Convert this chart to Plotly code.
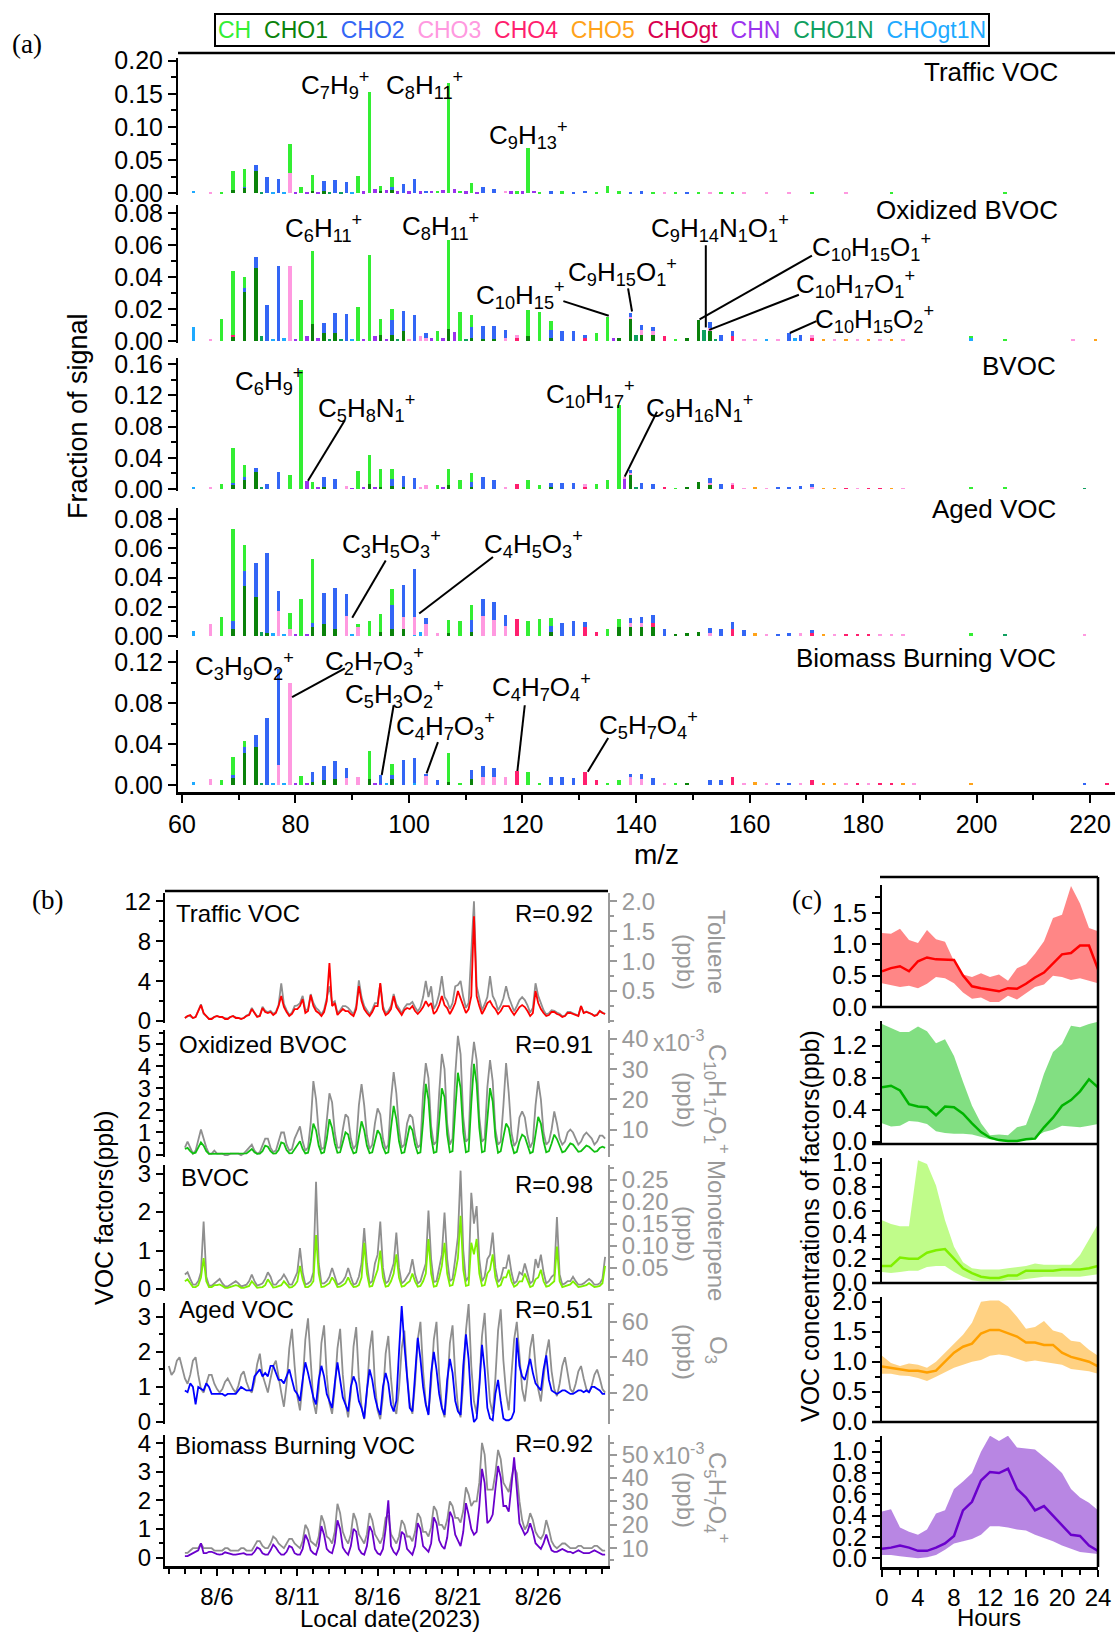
import plotly.graph_objects as go
import pandas as pd

W, H = 1115, 1633
FONT = "Liberation Sans, Arial, sans-serif"
SERIF = "Liberation Serif, Times New Roman, serif"
GRAY = "#999999"

# ---------------- Panel (a) data: mass spectra (m/z, category, fraction) ----------------
CATEGORIES = ["CH", "CHO1", "CHO2", "CHO3", "CHO4", "CHO5", "CHOgt", "CHN", "CHO1N", "CHOgt1N"]
CAT_COLORS = ["#33ee33", "#0b820b", "#3366f5", "#ff99e0", "#ff1f6e", "#ffa31a",
              "#d8004f", "#9b33ee", "#10a060", "#1eaaff"]
STACK_ORDER = ["CHOgt1N", "CHO1N", "CHN", "CHO1", "CHOgt", "CHO5", "CHO4", "CHO3", "CHO2", "CH"]
FACTORS = ["Traffic VOC", "Oxidized BVOC", "BVOC", "Aged VOC", "Biomass Burning VOC"]

TRAFFIC_PEAKS = [
    (62, "CHOgt1N", 0.0035), (65, "CHO3", 0.001), (67, "CH", 0.002),
    (69, "CHO1", 0.005), (69, "CH", 0.029), (71, "CHO1", 0.008), (71, "CHO2", 0.002), (71, "CH", 0.026),
    (73, "CHO1", 0.033), (73, "CHO2", 0.009), (74, "CHO1N", 0.002), (75, "CHO2", 0.024),
    (76, "CHOgt1N", 0.002), (77, "CHO2", 0.022), (78, "CHOgt1N", 0.002), (79, "CHO3", 0.030), (79, "CH", 0.044),
    (80, "CHN", 0.002), (81, "CH", 0.009), (82, "CHN", 0.002), (83, "CHO1", 0.004), (83, "CH", 0.023),
    (84, "CHN", 0.002), (85, "CHO1", 0.003), (85, "CHO2", 0.016), (86, "CHO1N", 0.002), (87, "CHO2", 0.020),
    (88, "CHO1N", 0.002), (89, "CHO2", 0.017), (90, "CHOgt1N", 0.001), (91, "CH", 0.026), (92, "CHN", 0.003),
    (93, "CH", 0.153), (94, "CHN", 0.006), (95, "CHO1", 0.004), (95, "CH", 0.007), (96, "CHN", 0.005),
    (97, "CHO1", 0.006), (97, "CHO2", 0.003), (97, "CH", 0.015), (98, "CHN", 0.003), (99, "CHO2", 0.014),
    (100, "CHN", 0.003), (101, "CHO2", 0.021), (102, "CHN", 0.003), (103, "CHO2", 0.004), (104, "CHN", 0.004),
    (105, "CH", 0.004), (106, "CHN", 0.005), (107, "CH", 0.167), (108, "CHN", 0.006), (109, "CH", 0.004),
    (110, "CHN", 0.003), (111, "CH", 0.015), (112, "CHN", 0.002), (113, "CHO2", 0.010), (115, "CHO2", 0.007),
    (117, "CHO3", 0.004), (118, "CHN", 0.003), (119, "CH", 0.003), (120, "CHN", 0.003), (121, "CH", 0.069),
    (122, "CHN", 0.004), (123, "CH", 0.002), (125, "CHO2", 0.003), (127, "CH", 0.003), (129, "CHO2", 0.002),
    (131, "CHO2", 0.004), (133, "CH", 0.002), (135, "CH", 0.011), (137, "CH", 0.003), (139, "CHO2", 0.002),
    (141, "CHO2", 0.003), (143, "CH", 0.002), (145, "CHO3", 0.002), (147, "CH", 0.002), (149, "CHO2", 0.001),
    (151, "CH", 0.002), (153, "CHO3", 0.001), (155, "CH", 0.001), (157, "CH", 0.002), (159, "CHO3", 0.001),
    (163, "CHO3", 0.001), (167, "CHO3", 0.001), (171, "CH", 0.001), (177, "CHO3", 0.001), (185, "CH", 0.001),
    (205, "CH", 0.002),
]
OXBVOC_PEAKS = [
    (62, "CHOgt1N", 0.009), (65, "CHO3", 0.001), (67, "CH", 0.0136),
    (69, "CHO1", 0.003), (69, "CHO4", 0.001), (69, "CH", 0.040),
    (71, "CHO1", 0.031), (71, "CHO2", 0.002), (71, "CH", 0.007), (73, "CHO1", 0.046), (73, "CHO2", 0.0065),
    (74, "CHO1N", 0.003), (75, "CHO2", 0.0226), (76, "CHOgt1N", 0.001), (77, "CHO2", 0.047),
    (78, "CHOgt1N", 0.002), (79, "CHO3", 0.047), (80, "CHN", 0.001), (81, "CH", 0.026), (82, "CHN", 0.003),
    (83, "CHO1", 0.0107), (83, "CH", 0.0457), (84, "CHN", 0.002), (85, "CHO1", 0.005), (85, "CHO2", 0.006),
    (86, "CHO1N", 0.001), (87, "CHO1", 0.005), (87, "CHO2", 0.0123), (88, "CHO1N", 0.001), (89, "CHO2", 0.017),
    (90, "CHOgt1N", 0.001), (91, "CH", 0.021), (92, "CHN", 0.001), (93, "CH", 0.054), (94, "CHN", 0.003),
    (95, "CHO1", 0.0035), (95, "CH", 0.0105), (96, "CHN", 0.001),
    (97, "CHO1", 0.004), (97, "CHO2", 0.009), (97, "CH", 0.007), (98, "CHO1N", 0.001),
    (99, "CHO1", 0.0065), (99, "CHO2", 0.0125), (100, "CHO3", 0.001), (101, "CHO2", 0.016), (102, "CHO3", 0.003),
    (103, "CHO3", 0.002), (103, "CHO2", 0.003), (104, "CHN", 0.002), (105, "CH", 0.006), (106, "CHN", 0.002),
    (107, "CHO1", 0.0075), (107, "CH", 0.0555), (108, "CHN", 0.0056), (109, "CH", 0.018), (110, "CHO1N", 0.001),
    (111, "CHO1", 0.002), (111, "CHO2", 0.007), (111, "CH", 0.007), (113, "CHO1", 0.001), (113, "CHO2", 0.0086),
    (115, "CHO1", 0.001), (115, "CHO2", 0.0086), (117, "CHO3", 0.002), (117, "CHO2", 0.0047),
    (119, "CHO4", 0.002), (119, "CHO3", 0.0015), (121, "CHO1", 0.003), (121, "CH", 0.0166), (123, "CH", 0.018),
    (125, "CHO1", 0.002), (125, "CHO2", 0.005), (125, "CH", 0.0055), (127, "CHO2", 0.006), (129, "CHO2", 0.006),
    (131, "CHO4", 0.002), (131, "CHO2", 0.002), (133, "CH", 0.005), (135, "CH", 0.0148), (136, "CHN", 0.002),
    (137, "CHO1", 0.002), (139, "CHO1", 0.0138), (139, "CHO3", 0.001), (139, "CHO2", 0.003),
    (140, "CHO1N", 0.004), (141, "CHO1", 0.004), (141, "CHO3", 0.003), (141, "CHO2", 0.003),
    (143, "CHO1", 0.004), (143, "CHO3", 0.002), (143, "CHO2", 0.003), (145, "CHO4", 0.003), (147, "CH", 0.001),
    (149, "CHO1", 0.002), (151, "CHO1", 0.013), (152, "CHO1N", 0.007),
    (153, "CHO1", 0.006), (153, "CHO3", 0.002), (153, "CHO2", 0.004), (154, "CHO1N", 0.001), (155, "CHO2", 0.004),
    (157, "CHO4", 0.003), (157, "CHO2", 0.003), (159, "CHO3", 0.001), (161, "CHO3", 0.001),
    (163, "CHOgt1N", 0.001), (165, "CHO3", 0.001), (167, "CHO2", 0.005), (168, "CHOgt1N", 0.002),
    (169, "CHO2", 0.004), (171, "CHO4", 0.002), (171, "CHO3", 0.002), (173, "CHO5", 0.001), (175, "CHO3", 0.001),
    (177, "CHO5", 0.001), (179, "CHO3", 0.001), (181, "CHO5", 0.001), (183, "CHO3", 0.001), (185, "CHO5", 0.001),
    (187, "CHO3", 0.001), (199, "CHOgt1N", 0.002), (199, "CH", 0.001), (205, "CH", 0.001),
    (217, "CHO3", 0.001), (221, "CHO5", 0.001),
]
BVOC_PEAKS = [
    (62, "CHOgt1N", 0.002), (65, "CHO3", 0.002), (67, "CH", 0.006),
    (69, "CHO1", 0.006), (69, "CHO2", 0.002), (69, "CH", 0.045),
    (71, "CHO1", 0.012), (71, "CHO2", 0.003), (71, "CH", 0.016), (73, "CHO1", 0.022), (73, "CHO2", 0.005),
    (74, "CHO1N", 0.002), (75, "CHO2", 0.006), (77, "CHO2", 0.022), (79, "CH", 0.018), (81, "CH", 0.153),
    (82, "CHN", 0.010), (83, "CH", 0.0085), (84, "CHN", 0.002), (85, "CHO1", 0.002), (85, "CHO2", 0.014),
    (87, "CHO2", 0.013), (89, "CHO3", 0.004), (90, "CHN", 0.001), (91, "CH", 0.023), (92, "CHN", 0.002),
    (93, "CHO1", 0.006), (93, "CH", 0.037), (94, "CHN", 0.002), (95, "CHO1", 0.003), (95, "CH", 0.022),
    (97, "CHO1", 0.004), (97, "CHO2", 0.009), (97, "CH", 0.013), (99, "CHO1", 0.003), (99, "CHO2", 0.014),
    (101, "CHO2", 0.014), (102, "CHO3", 0.002), (103, "CHO3", 0.005), (105, "CH", 0.005), (106, "CHN", 0.002),
    (107, "CHO1", 0.005), (107, "CH", 0.020), (109, "CH", 0.0115),
    (111, "CHO1", 0.002), (111, "CHO2", 0.007), (111, "CH", 0.012), (113, "CHO2", 0.016), (115, "CHO2", 0.012),
    (117, "CHO3", 0.003), (119, "CHO4", 0.007), (121, "CH", 0.011), (123, "CH", 0.005),
    (125, "CHO1", 0.002), (125, "CHO2", 0.006), (127, "CHO2", 0.008), (129, "CHO2", 0.008),
    (131, "CHO4", 0.003), (131, "CHO3", 0.003), (133, "CH", 0.006), (135, "CH", 0.012), (137, "CH", 0.107),
    (138, "CHN", 0.013), (138, "CHO3", 0.002), (139, "CHO1", 0.019), (139, "CHO3", 0.002), (139, "CHO2", 0.003),
    (140, "CHO1N", 0.002), (141, "CHO2", 0.008), (143, "CHO2", 0.006), (145, "CHO4", 0.002), (147, "CH", 0.001),
    (149, "CHO1", 0.003), (151, "CHO1", 0.009), (153, "CHO1", 0.006), (153, "CHO3", 0.002), (153, "CHO2", 0.006),
    (155, "CHO2", 0.006), (157, "CHO4", 0.006), (157, "CHO3", 0.001), (159, "CHO3", 0.001), (161, "CHO5", 0.002),
    (163, "CHO3", 0.001), (165, "CHO2", 0.002), (167, "CHO2", 0.003), (169, "CHO2", 0.004),
    (171, "CHO3", 0.002), (171, "CHO2", 0.004), (173, "CHO5", 0.001), (175, "CHO5", 0.001), (177, "CHO4", 0.001),
    (179, "CHO3", 0.001), (181, "CHO4", 0.001), (183, "CHO4", 0.001), (185, "CHO5", 0.001), (187, "CHO3", 0.001),
    (199, "CH", 0.002), (205, "CH", 0.002), (219, "CHO1N", 0.001),
]
AGED_PEAKS = [
    (62, "CHOgt1N", 0.0034), (65, "CHO3", 0.008), (67, "CH", 0.013),
    (69, "CHO1", 0.005), (69, "CHO2", 0.005), (69, "CH", 0.063),
    (71, "CHO1", 0.0345), (71, "CHO2", 0.0102), (71, "CH", 0.0173), (73, "CHO1", 0.027), (73, "CHO2", 0.023),
    (74, "CHO1N", 0.003), (75, "CHO1", 0.002), (75, "CHO2", 0.055), (76, "CHOgt1N", 0.002),
    (77, "CHO3", 0.017), (77, "CHO2", 0.014), (78, "CHOgt1N", 0.001), (79, "CHO3", 0.005), (79, "CH", 0.0105),
    (80, "CHN", 0.001), (81, "CH", 0.025), (82, "CHN", 0.001),
    (83, "CHO1", 0.006), (83, "CHO2", 0.003), (83, "CH", 0.044), (85, "CHO1", 0.008), (85, "CHO2", 0.0216),
    (87, "CHO1", 0.005), (87, "CHO2", 0.028), (89, "CHO3", 0.014), (89, "CHO2", 0.0145), (90, "CHOgt1N", 0.001),
    (91, "CHO3", 0.006), (91, "CH", 0.002), (93, "CH", 0.010), (95, "CHO1", 0.003), (95, "CH", 0.012),
    (97, "CHO1", 0.005), (97, "CHO2", 0.016), (97, "CH", 0.011),
    (99, "CHO1", 0.005), (99, "CHO3", 0.008), (99, "CHO2", 0.022),
    (101, "CHOgt1N", 0.001), (101, "CHO3", 0.012), (101, "CHO2", 0.033), (102, "CHOgt1N", 0.003),
    (103, "CHO3", 0.008), (103, "CHO2", 0.004), (105, "CHO3", 0.002), (107, "CHO1", 0.002), (107, "CH", 0.009),
    (109, "CH", 0.010), (111, "CHO1", 0.003), (111, "CHO2", 0.008), (111, "CH", 0.010),
    (113, "CHO3", 0.014), (113, "CHO2", 0.0113), (115, "CHO3", 0.011), (115, "CHO2", 0.012),
    (117, "CHO3", 0.007), (117, "CHO2", 0.0076), (119, "CHO4", 0.0116), (121, "CH", 0.010), (123, "CH", 0.0114),
    (125, "CHO1", 0.003), (125, "CHO2", 0.004), (125, "CH", 0.005), (127, "CHO2", 0.009), (129, "CHO2", 0.0105),
    (131, "CHO4", 0.006), (131, "CHO2", 0.0033), (133, "CHO4", 0.003), (135, "CH", 0.005),
    (137, "CHO1", 0.006), (137, "CH", 0.0056), (139, "CHO1", 0.006), (139, "CHO3", 0.003), (139, "CHO2", 0.0035),
    (141, "CHO1", 0.006), (141, "CHO3", 0.003), (141, "CHO2", 0.0038),
    (143, "CHO1", 0.006), (143, "CHO4", 0.003), (143, "CHO2", 0.0056), (145, "CHO2", 0.005),
    (147, "CHO1", 0.001), (149, "CHO1", 0.002), (151, "CHO1", 0.003), (153, "CHO3", 0.002), (153, "CHO2", 0.0035),
    (155, "CHO2", 0.005), (157, "CHO4", 0.005), (157, "CHO2", 0.0048), (159, "CHO2", 0.004), (161, "CHO5", 0.002),
    (163, "CHO3", 0.001), (165, "CHO2", 0.001), (167, "CHO2", 0.002), (169, "CHO3", 0.002),
    (171, "CHO4", 0.002), (171, "CHO2", 0.002), (173, "CHO5", 0.001), (175, "CHO3", 0.001), (177, "CHO4", 0.001),
    (179, "CHO4", 0.001), (181, "CHO4", 0.001), (183, "CHO3", 0.001), (185, "CHO3", 0.001), (187, "CHO3", 0.001),
    (199, "CH", 0.002), (205, "CHO1N", 0.001), (219, "CHO3", 0.001),
]
BIOMASS_PEAKS = [
    (62, "CHOgt1N", 0.003), (65, "CHO3", 0.0055), (67, "CH", 0.005),
    (69, "CHO1", 0.007), (69, "CHO2", 0.003), (69, "CH", 0.017),
    (71, "CHO1", 0.031), (71, "CHO2", 0.006), (71, "CH", 0.0064), (73, "CHO1", 0.0375), (73, "CHO2", 0.0115),
    (74, "CHO1N", 0.002), (75, "CHO2", 0.066), (76, "CHOgt1N", 0.002), (77, "CHO3", 0.0196), (77, "CHO2", 0.094),
    (78, "CHOgt1N", 0.002), (79, "CHO3", 0.100), (80, "CHN", 0.001), (81, "CH", 0.009), (82, "CHN", 0.001),
    (83, "CHO1", 0.003), (83, "CHO2", 0.010), (85, "CHO1", 0.005), (85, "CHO2", 0.0136),
    (87, "CHO1", 0.006), (87, "CHO2", 0.0175), (89, "CHO3", 0.007), (89, "CHO2", 0.010), (91, "CHO3", 0.0075),
    (93, "CHO1", 0.006), (93, "CH", 0.0276), (94, "CHN", 0.001), (95, "CHN", 0.001), (95, "CHO2", 0.009),
    (96, "CHOgt1N", 0.001), (97, "CHO1", 0.006), (97, "CHO2", 0.004), (97, "CH", 0.011), (99, "CHO2", 0.024),
    (101, "CHOgt1N", 0.002), (101, "CHO2", 0.0247), (103, "CHO3", 0.0085), (103, "CHO2", 0.0025),
    (105, "CHO2", 0.005), (107, "CHO1", 0.003), (107, "CH", 0.028), (109, "CH", 0.002),
    (111, "CHO1", 0.006), (111, "CHO2", 0.0087), (113, "CHO3", 0.008), (113, "CHO2", 0.011),
    (115, "CHO3", 0.008), (115, "CHO2", 0.0083), (117, "CHO3", 0.0075), (119, "CHO4", 0.0134), (121, "CH", 0.013),
    (123, "CH", 0.002), (125, "CHO2", 0.008), (127, "CHO2", 0.008), (129, "CHO2", 0.0065), (131, "CHO4", 0.013),
    (133, "CHO4", 0.005), (135, "CH", 0.002), (137, "CH", 0.005), (139, "CHO3", 0.008), (139, "CHO2", 0.003),
    (141, "CHO3", 0.006), (141, "CHO2", 0.0048), (143, "CHO2", 0.007), (145, "CHO3", 0.002), (147, "CH", 0.001),
    (149, "CHO1", 0.001), (153, "CHO2", 0.005), (155, "CHO2", 0.005), (157, "CHO4", 0.008), (159, "CHO3", 0.001),
    (161, "CHO5", 0.003), (163, "CHO3", 0.001), (165, "CHO2", 0.001), (167, "CHO2", 0.002), (169, "CHO3", 0.001),
    (171, "CHO4", 0.005), (173, "CHO5", 0.002), (175, "CHO5", 0.001), (177, "CHO3", 0.001), (179, "CHO4", 0.001),
    (181, "CHO3", 0.001), (183, "CHO4", 0.001), (185, "CHO4", 0.001), (187, "CHO5", 0.002), (189, "CHO3", 0.001),
    (199, "CHO5", 0.002), (219, "CHO2", 0.001), (223, "CHO4", 0.001),
]
SPECTRA = [TRAFFIC_PEAKS, OXBVOC_PEAKS, BVOC_PEAKS, AGED_PEAKS, BIOMASS_PEAKS]

MZ_TICKS = [60, 80, 100, 120, 140, 160, 180, 200, 220]
A_YTICKS = [[0, 0.05, 0.10, 0.15, 0.20], [0, 0.02, 0.04, 0.06, 0.08], [0, 0.04, 0.08, 0.12, 0.16],
            [0, 0.02, 0.04, 0.06, 0.08], [0, 0.04, 0.08, 0.12]]

# ion labels: (text, m/z, fraction, leader-line or None)
A_LABELS = [
    [("C<sub>7</sub>H<sub>9</sub><sup>+</sup>", 87.0, 0.163, None),
     ("C<sub>8</sub>H<sub>11</sub><sup>+</sup>", 102.8, 0.163, None),
     ("C<sub>9</sub>H<sub>13</sub><sup>+</sup>", 121.0, 0.088, None)],
    [("C<sub>6</sub>H<sub>11</sub><sup>+</sup>", 85.0, 0.071, None),
     ("C<sub>8</sub>H<sub>11</sub><sup>+</sup>", 105.5, 0.072, None),
     ("C<sub>9</sub>H<sub>14</sub>N<sub>1</sub>O<sub>1</sub><sup>+</sup>", 154.8, 0.071, (152.3, 0.0085, 152.3, 0.060)),
     ("C<sub>10</sub>H<sub>15</sub>O<sub>1</sub><sup>+</sup>", 181.5, 0.059, (151.2, 0.0135, 171.0, 0.0535)),
     ("C<sub>10</sub>H<sub>17</sub>O<sub>1</sub><sup>+</sup>", 178.7, 0.0355, (152.9, 0.0070, 168.7, 0.029)),
     ("C<sub>10</sub>H<sub>15</sub>O<sub>2</sub><sup>+</sup>", 182.0, 0.0136, (167.1, 0.005, 171.8, 0.0125)),
     ("C<sub>9</sub>H<sub>15</sub>O<sub>1</sub><sup>+</sup>", 137.6, 0.0433, (139.3, 0.0185, 138.6, 0.033)),
     ("C<sub>10</sub>H<sub>15</sub><sup>+</sup>", 119.6, 0.0288, (135.2, 0.0158, 127.2, 0.025))],
    [("C<sub>6</sub>H<sub>9</sub><sup>+</sup>", 75.3, 0.138, None),
     ("C<sub>5</sub>H<sub>8</sub>N<sub>1</sub><sup>+</sup>", 92.5, 0.104, (82.2, 0.0106, 88.7, 0.088)),
     ("C<sub>10</sub>H<sub>17</sub><sup>+</sup>", 131.9, 0.122, None),
     ("C<sub>9</sub>H<sub>16</sub>N<sub>1</sub><sup>+</sup>", 151.2, 0.104, (138.0, 0.0158, 143.7, 0.099))],
    [("C<sub>3</sub>H<sub>5</sub>O<sub>3</sub><sup>+</sup>", 96.9, 0.063, (90.0, 0.0125, 95.9, 0.0517)),
     ("C<sub>4</sub>H<sub>5</sub>O<sub>3</sub><sup>+</sup>", 121.9, 0.063, (101.8, 0.0154, 114.8, 0.054))],
    [("C<sub>3</sub>H<sub>9</sub>O<sub>2</sub><sup>+</sup>", 71.0, 0.116, None),
     ("C<sub>2</sub>H<sub>7</sub>O<sub>3</sub><sup>+</sup>", 94.0, 0.121, (79.4, 0.086, 88.7, 0.114)),
     ("C<sub>5</sub>H<sub>3</sub>O<sub>2</sub><sup>+</sup>", 97.5, 0.0886, (95.2, 0.0098, 97.3, 0.078)),
     ("C<sub>4</sub>H<sub>7</sub>O<sub>3</sub><sup>+</sup>", 106.4, 0.058, (103.1, 0.0114, 105.1, 0.042)),
     ("C<sub>4</sub>H<sub>7</sub>O<sub>4</sub><sup>+</sup>", 123.3, 0.096, (119.1, 0.0137, 120.4, 0.078)),
     ("C<sub>5</sub>H<sub>7</sub>O<sub>4</sub><sup>+</sup>", 142.2, 0.059, (131.5, 0.013, 135.1, 0.046))],
]

# ---------------- Panel (b) data: 4-hourly time series from 2023-08-04 00:00 ----------------
TS_START = "2023-08-04 00:00"
O3_START = "2023-08-03 00:00"
TRAFFIC_FACTOR = [
    0.3, 0.5, 0.6, 0.3, 0.4, 1.0, 1.6, 0.8, 0.5, 0.2, 0.2, 0.4, 0.5, 0.4, 0.4, 0.2, 0.2, 0.4,
    0.5, 0.3, 0.3, 0.2, 0.3, 0.5, 0.6, 1.2, 0.8, 0.4, 0.5, 1.3, 0.9, 0.8, 0.9, 0.6, 0.8, 1.5,
    2.5, 1.4, 0.9, 0.5, 0.7, 1.2, 1.2, 1.5, 2.2, 0.8, 1.0, 2.6, 1.5, 1.0, 0.8, 0.5, 0.9, 2.0,
    5.8, 1.5, 1.8, 0.6, 0.9, 1.2, 1.0, 1.0, 0.7, 0.5, 1.2, 3.5, 2.0, 1.2, 0.8, 0.5, 0.9, 1.5,
    1.5, 3.8, 1.2, 0.6, 0.8, 1.2, 2.5, 1.4, 1.0, 0.6, 1.1, 1.3, 1.2, 1.5, 1.0, 0.7, 1.0, 1.4,
    2.0, 1.5, 1.8, 0.7, 1.0, 1.6, 2.5, 1.6, 1.3, 0.7, 1.2, 1.8, 3.0, 2.2, 1.5, 0.8, 1.2, 2.5,
    10.5, 2.5, 1.5, 0.7, 1.2, 1.8, 2.0, 1.5, 1.2, 0.7, 1.0, 1.5, 1.5, 1.5, 1.0, 0.6, 1.0, 1.4,
    1.6, 1.4, 1.0, 0.5, 0.8, 3.0, 1.8, 1.2, 0.8, 0.5, 0.6, 0.9, 0.9, 0.7, 0.6, 0.4, 0.5, 0.8,
    0.8, 0.7, 0.6, 0.5, 1.5, 0.8, 0.9, 0.8, 0.7, 0.5, 0.6, 1.0, 0.8, 0.7,
]
TOLUENE = [
    0.05, 0.08, 0.08, 0.05, 0.07, 0.17, 0.28, 0.12, 0.08, 0.04, 0.04, 0.07, 0.08, 0.07, 0.06, 0.04, 0.04, 0.07,
    0.08, 0.06, 0.05, 0.04, 0.05, 0.09, 0.11, 0.22, 0.14, 0.08, 0.09, 0.24, 0.17, 0.15, 0.17, 0.12, 0.15, 0.27,
    0.63, 0.28, 0.18, 0.10, 0.14, 0.25, 0.26, 0.30, 0.42, 0.18, 0.20, 0.45, 0.30, 0.22, 0.18, 0.11, 0.19, 0.38,
    0.58, 0.30, 0.33, 0.13, 0.18, 0.25, 0.25, 0.22, 0.16, 0.11, 0.25, 0.68, 0.40, 0.25, 0.18, 0.11, 0.19, 0.30,
    0.30, 0.62, 0.25, 0.13, 0.17, 0.25, 0.45, 0.28, 0.21, 0.13, 0.22, 0.28, 0.28, 0.32, 0.23, 0.16, 0.23, 0.40,
    0.67, 0.40, 0.58, 0.20, 0.28, 0.45, 0.75, 0.40, 0.33, 0.20, 0.30, 0.58, 0.60, 0.67, 0.40, 0.22, 0.30, 1.20,
    2.00, 0.58, 0.35, 0.18, 0.28, 0.40, 0.75, 0.42, 0.33, 0.18, 0.26, 0.38, 0.58, 0.40, 0.28, 0.16, 0.25, 0.35,
    0.40, 0.35, 0.26, 0.14, 0.22, 0.63, 0.42, 0.28, 0.18, 0.11, 0.13, 0.18, 0.17, 0.14, 0.12, 0.08, 0.09, 0.15,
    0.15, 0.13, 0.11, 0.09, 0.25, 0.14, 0.16, 0.14, 0.12, 0.09, 0.11, 0.17, 0.14, 0.12,
]
OXBVOC_FACTOR = [
    0.25, 0.30, 0.15, 0.05, 0.08, 0.35, 0.55, 0.40, 0.15, 0.03, 0.03, 0.05, 0.05, 0.05, 0.03, 0.02, 0.02, 0.03,
    0.04, 0.05, 0.03, 0.02, 0.02, 0.05, 0.15, 0.25, 0.10, 0.03, 0.04, 0.15, 0.40, 0.35, 0.15, 0.04, 0.05, 0.20,
    0.55, 0.50, 0.20, 0.05, 0.06, 0.25, 0.45, 0.60, 0.25, 0.05, 0.08, 0.60, 1.40, 1.10, 0.40, 0.05, 0.10, 0.70,
    1.60, 1.20, 0.50, 0.08, 0.10, 0.50, 1.00, 0.90, 0.35, 0.05, 0.10, 0.80, 1.50, 1.10, 0.40, 0.06, 0.10, 0.60,
    1.10, 0.90, 0.35, 0.05, 0.10, 1.20, 2.20, 1.60, 0.60, 0.06, 0.10, 0.70, 1.30, 1.10, 0.45, 0.05, 0.10, 1.50,
    3.20, 2.50, 0.80, 0.08, 0.12, 1.50, 3.00, 2.60, 0.90, 0.10, 0.15, 2.00, 3.70, 3.00, 1.00, 0.10, 0.15, 2.30,
    4.10, 3.20, 1.20, 0.10, 0.15, 1.60, 3.00, 2.40, 0.80, 0.08, 0.15, 0.80, 1.40, 1.20, 0.50, 0.06, 0.12, 0.60,
    0.90, 0.80, 0.40, 0.06, 0.12, 0.90, 1.70, 1.40, 0.60, 0.10, 0.15, 0.50, 0.90, 0.70, 0.35, 0.10, 0.15, 0.35,
    0.50, 0.45, 0.30, 0.12, 0.15, 0.30, 0.40, 0.35, 0.25, 0.12, 0.15, 0.30, 0.35, 0.30,
]
C10H17O1 = [  # x1e-3 ppb
    4, 6, 4, 2, 3, 7, 10, 7, 4, 2, 2, 3, 2, 2, 2, 1.5, 1.5, 2,
    2, 2, 2, 1.5, 2, 3, 4, 5, 3, 2, 2.5, 5, 7, 7, 4, 2.5, 3, 6,
    9, 9, 5, 3, 3.5, 7, 9, 11, 6, 3, 4, 12, 26, 20, 9, 3.5, 4, 14,
    22, 19, 9, 4, 4, 10, 15, 14, 7, 3.5, 5, 18, 25, 18, 8, 3.5, 5, 12,
    17, 15, 7, 3.5, 5, 20, 29, 22, 10, 4, 5, 12, 15, 14, 8, 4, 5, 22,
    32, 27, 11, 5, 6, 22, 35, 30, 12, 5, 7, 28, 41, 35, 14, 6, 7, 30,
    39, 33, 14, 6, 7, 24, 33, 26, 10, 5, 6, 18, 32, 22, 9, 4.5, 6, 14,
    16, 14, 8, 4, 6, 18, 26, 20, 9, 5, 6, 10, 16, 12, 7, 5, 6, 9,
    10, 9, 7, 5, 6, 8, 9, 8, 7, 5, 6, 8, 8, 7,
]
BVOC_FACTOR = [
    0.20, 0.25, 0.15, 0.05, 0.05, 0.10, 0.30, 0.80, 0.20, 0.05, 0.05, 0.10, 0.10, 0.12, 0.08, 0.03, 0.03, 0.05,
    0.06, 0.10, 0.08, 0.03, 0.03, 0.05, 0.08, 0.20, 0.10, 0.03, 0.04, 0.05, 0.10, 0.25, 0.15, 0.04, 0.05, 0.08,
    0.10, 0.20, 0.12, 0.04, 0.05, 0.10, 0.20, 0.60, 0.25, 0.05, 0.05, 0.10, 0.20, 1.40, 0.40, 0.05, 0.06, 0.10,
    0.15, 0.30, 0.20, 0.05, 0.06, 0.10, 0.15, 0.30, 0.15, 0.05, 0.06, 0.10, 0.30, 1.20, 0.40, 0.06, 0.08, 0.30,
    0.50, 1.00, 0.30, 0.06, 0.08, 0.20, 0.40, 0.90, 0.30, 0.06, 0.08, 0.15, 0.20, 0.40, 0.20, 0.06, 0.08, 0.20,
    0.40, 1.30, 0.40, 0.06, 0.08, 0.30, 0.60, 1.20, 0.40, 0.08, 0.10, 0.40, 0.80, 1.90, 0.50, 0.08, 0.10, 1.20,
    0.90, 1.30, 0.40, 0.08, 0.10, 0.40, 0.50, 0.90, 0.30, 0.06, 0.10, 0.30, 0.30, 0.50, 0.20, 0.06, 0.10, 0.20,
    0.20, 0.40, 0.20, 0.05, 0.08, 0.25, 0.30, 0.50, 0.20, 0.06, 0.08, 0.15, 0.20, 1.10, 0.20, 0.05, 0.08, 0.10,
    0.12, 0.20, 0.12, 0.05, 0.06, 0.08, 0.10, 0.15, 0.10, 0.05, 0.06, 0.08, 0.15, 0.60,
]
MONOTERPENE = [
    0.035, 0.04, 0.025, 0.012, 0.012, 0.02, 0.04, 0.155, 0.03, 0.01, 0.01, 0.015, 0.02, 0.025, 0.015, 0.008, 0.008, 0.012,
    0.015, 0.02, 0.015, 0.008, 0.01, 0.012, 0.02, 0.035, 0.02, 0.01, 0.012, 0.015, 0.025, 0.04, 0.03, 0.012, 0.012, 0.02,
    0.025, 0.035, 0.025, 0.012, 0.012, 0.025, 0.04, 0.095, 0.04, 0.012, 0.015, 0.02, 0.04, 0.245, 0.06, 0.015, 0.015, 0.02,
    0.03, 0.05, 0.03, 0.012, 0.015, 0.02, 0.03, 0.05, 0.03, 0.012, 0.015, 0.03, 0.06, 0.14, 0.06, 0.015, 0.02, 0.06,
    0.08, 0.155, 0.05, 0.015, 0.02, 0.04, 0.06, 0.13, 0.05, 0.015, 0.02, 0.03, 0.04, 0.07, 0.035, 0.015, 0.02, 0.04,
    0.06, 0.18, 0.07, 0.018, 0.02, 0.05, 0.08, 0.175, 0.07, 0.02, 0.025, 0.07, 0.12, 0.27, 0.09, 0.02, 0.03, 0.22,
    0.15, 0.19, 0.07, 0.02, 0.03, 0.07, 0.08, 0.13, 0.05, 0.018, 0.025, 0.05, 0.05, 0.08, 0.04, 0.015, 0.02, 0.04,
    0.035, 0.06, 0.035, 0.015, 0.02, 0.07, 0.05, 0.08, 0.04, 0.015, 0.02, 0.03, 0.035, 0.165, 0.035, 0.012, 0.015, 0.02,
    0.02, 0.03, 0.02, 0.012, 0.012, 0.015, 0.02, 0.025, 0.02, 0.012, 0.012, 0.015, 0.025, 0.075,
]
AGED_FACTOR = [
    0.90, 0.85, 1.10, 1.00, 0.50, 1.00, 0.95, 0.90, 1.10, 1.00, 0.80, 0.80, 0.80, 0.80, 0.80, 0.75, 0.80, 0.80,
    0.80, 0.80, 0.90, 1.00, 0.95, 0.90, 0.90, 0.90, 1.30, 1.40, 1.50, 1.30, 1.40, 1.30, 1.60, 1.60, 1.40, 1.20,
    1.20, 1.10, 1.30, 1.50, 1.20, 0.90, 0.80, 0.60, 1.20, 1.70, 1.40, 1.00, 0.70, 0.50, 1.20, 1.60, 1.30, 0.80,
    0.60, 0.40, 1.10, 1.70, 1.20, 0.70, 0.50, 0.30, 1.00, 1.30, 1.10, 0.60, 0.40, 0.10, 0.90, 1.50, 1.20, 0.70,
    0.40, 0.20, 1.00, 1.40, 1.10, 0.50, 0.30, 0.60, 2.00, 3.30, 2.20, 1.20, 0.40, 0.30, 1.50, 2.40, 1.80, 1.00,
    0.50, 0.20, 1.40, 2.00, 1.50, 0.80, 0.40, 0.20, 1.20, 1.80, 1.40, 0.60, 0.30, 0.20, 1.60, 2.50, 1.80, 0.50,
    0.00, 0.10, 1.00, 2.20, 1.50, 0.40, 0.10, 0.05, 0.80, 1.20, 0.60, 0.10, 0.05, 0.05, 0.10, 0.30, 2.40, 1.60,
    1.30, 1.20, 1.50, 1.80, 1.40, 1.10, 1.00, 0.90, 1.50, 1.90, 1.20, 0.90, 0.85, 0.80, 0.85, 0.90, 0.90, 0.85,
    0.80, 0.80, 0.85, 0.90, 0.90, 0.85, 0.90, 0.85, 1.00, 1.00, 0.95, 0.90, 0.80, 0.80,
]
OZONE = [
    35, 30, 32, 38, 40, 34,
    28, 25, 30, 38, 40, 30, 22, 20, 25, 30, 30, 25, 22, 20, 22, 26, 28, 25,
    22, 20, 24, 30, 32, 26, 22, 20, 26, 36, 42, 30, 25, 20, 28, 35, 38, 28,
    20, 12, 25, 45, 56, 35, 18, 10, 25, 50, 62, 38, 15, 8, 22, 48, 58, 30,
    14, 8, 22, 45, 56, 30, 14, 6, 20, 46, 57, 28, 12, 5, 20, 44, 55, 25,
    10, 5, 18, 42, 52, 28, 12, 8, 22, 45, 55, 30, 14, 8, 25, 50, 60, 32,
    14, 8, 25, 50, 60, 30, 12, 6, 22, 48, 58, 30, 12, 6, 25, 55, 70, 35,
    15, 8, 25, 52, 65, 35, 15, 8, 28, 55, 67, 38, 20, 10, 28, 50, 60, 38,
    22, 15, 28, 45, 53, 35, 22, 15, 28, 42, 50, 32, 22, 18, 25, 35, 40, 30,
    22, 20, 25, 32, 35, 28, 22, 20, 24, 30, 33, 28, 22, 20,
]
BIOMASS_FACTOR = [
    0.05, 0.05, 0.10, 0.15, 0.20, 0.25, 0.50, 0.15, 0.15, 0.20, 0.20, 0.15, 0.12, 0.10, 0.12, 0.18, 0.15, 0.12,
    0.10, 0.10, 0.12, 0.15, 0.15, 0.10, 0.10, 0.10, 0.20, 0.35, 0.30, 0.15, 0.10, 0.10, 0.25, 0.45, 0.35, 0.20,
    0.10, 0.10, 0.20, 0.40, 0.35, 0.15, 0.10, 0.10, 0.30, 0.80, 0.60, 0.25, 0.15, 0.10, 0.40, 1.10, 0.80, 0.30,
    0.20, 0.15, 0.50, 1.30, 1.00, 0.35, 0.20, 0.10, 0.40, 1.00, 0.90, 0.30, 0.15, 0.10, 0.40, 1.10, 0.90, 0.30,
    0.15, 0.10, 0.30, 1.00, 2.00, 0.40, 0.20, 0.10, 0.30, 0.90, 0.80, 0.30, 0.20, 0.10, 0.40, 1.20, 1.00, 0.40,
    0.30, 0.20, 0.50, 1.40, 1.20, 0.60, 0.40, 0.30, 0.70, 1.60, 1.40, 0.80, 0.60, 0.40, 0.90, 1.90, 1.50, 1.00,
    0.80, 0.90, 1.80, 3.10, 2.60, 1.20, 1.30, 1.50, 2.40, 3.20, 2.80, 1.80, 1.80, 1.60, 2.50, 3.50, 2.40, 1.20,
    1.00, 0.80, 0.90, 1.20, 0.90, 0.50, 0.40, 0.30, 0.50, 0.80, 0.50, 0.25, 0.20, 0.20, 0.25, 0.30, 0.25, 0.20,
    0.20, 0.15, 0.20, 0.25, 0.20, 0.15, 0.15, 0.15, 0.20, 0.25, 0.20, 0.15, 0.10, 0.10,
]
C5H7O4 = [  # x1e-3 ppb
    8, 8, 9, 10, 10, 10, 12, 10, 10, 10, 10, 9, 9, 9, 9, 10, 10, 9,
    9, 9, 9, 10, 10, 9, 9, 9, 11, 13, 13, 11, 10, 10, 12, 15, 14, 12,
    11, 10, 12, 14, 14, 12, 11, 10, 13, 20, 18, 13, 12, 11, 15, 24, 21, 15,
    14, 12, 17, 29, 25, 17, 14, 12, 16, 25, 22, 16, 14, 12, 16, 25, 22, 16,
    14, 12, 15, 23, 24, 16, 14, 12, 15, 22, 20, 15, 15, 13, 17, 25, 23, 17,
    17, 15, 19, 28, 26, 20, 20, 18, 22, 30, 28, 23, 23, 21, 26, 36, 33, 28,
    30, 30, 38, 55, 50, 35, 35, 35, 42, 52, 48, 38, 36, 34, 40, 45, 42, 30,
    22, 18, 20, 25, 22, 17, 15, 14, 16, 22, 18, 13, 11, 10, 11, 12, 12, 11,
    10, 10, 10, 11, 11, 10, 10, 10, 10, 11, 11, 10, 9, 9,
]
B_FACTORS = [TRAFFIC_FACTOR, OXBVOC_FACTOR, BVOC_FACTOR, AGED_FACTOR, BIOMASS_FACTOR]
B_TRACERS = [TOLUENE, C10H17O1, MONOTERPENE, OZONE, C5H7O4]
B_COLORS = ["#ff0000", "#11c011", "#7cf000", "#0000ff", "#6a00cc"]
B_R = ["R=0.92", "R=0.91", "R=0.98", "R=0.51", "R=0.92"]
B_LEFT_TICKS = [[0, 4, 8, 12], [0, 1, 2, 3, 4, 5], [0, 1, 2, 3], [0, 1, 2, 3], [0, 1, 2, 3, 4]]
B_RIGHT_TICKS = [[0.5, 1.0, 1.5, 2.0], [10, 20, 30, 40], [0.05, 0.10, 0.15, 0.20, 0.25],
                 [20, 40, 60], [10, 20, 30, 40, 50]]
B_RIGHT_MINOR = [0.25, 5, 0.025, 10, 5]
B_RIGHT_FMT = [".1f", "d", ".2f", "d", "d"]
B_TRACER_NAMES = ["Toluene", "C<sub>10</sub>H<sub>17</sub>O<sub>1</sub><sup>+</sup>", "Monoterpene",
                  "O<sub>3</sub>", "C<sub>5</sub>H<sub>7</sub>O<sub>4</sub><sup>+</sup>"]
DATE_TICKS = ["2023-08-06", "2023-08-11", "2023-08-16", "2023-08-21", "2023-08-26"]

# ---------------- Panel (c) data: diurnal profiles ----------------
HOURS = list(range(25))
C_MEDIAN = [
    [0.57, 0.62, 0.65, 0.57, 0.73, 0.79, 0.76, 0.75, 0.75, 0.50, 0.33, 0.30, 0.28, 0.25, 0.30, 0.29, 0.37,
     0.47, 0.55, 0.70, 0.84, 0.86, 0.98, 0.98, 0.60],
    [0.68, 0.70, 0.64, 0.47, 0.44, 0.43, 0.33, 0.44, 0.43, 0.35, 0.23, 0.12, 0.05, 0.02, 0.01, 0.01, 0.03,
     0.04, 0.18, 0.30, 0.45, 0.52, 0.63, 0.78, 0.68],
    [0.14, 0.14, 0.21, 0.20, 0.20, 0.25, 0.27, 0.28, 0.20, 0.12, 0.08, 0.05, 0.04, 0.04, 0.06, 0.06, 0.10,
     0.10, 0.10, 0.10, 0.11, 0.11, 0.11, 0.12, 0.14],
    [0.92, 0.90, 0.87, 0.85, 0.85, 0.82, 0.85, 1.00, 1.15, 1.25, 1.30, 1.47, 1.53, 1.53, 1.48, 1.42, 1.32,
     1.32, 1.28, 1.28, 1.15, 1.08, 1.04, 1.00, 0.92],
    [0.09, 0.10, 0.12, 0.10, 0.07, 0.07, 0.10, 0.14, 0.21, 0.45, 0.53, 0.73, 0.81, 0.80, 0.84, 0.65, 0.57,
     0.45, 0.49, 0.40, 0.30, 0.22, 0.21, 0.12, 0.07],
]
C_UPPER = [
    [1.18, 1.17, 1.25, 1.07, 1.02, 1.23, 1.08, 1.04, 0.73, 0.52, 0.48, 0.54, 0.48, 0.52, 0.42, 0.62, 0.68,
     0.85, 1.05, 1.42, 1.47, 1.93, 1.65, 1.26, 1.21],
    [1.47, 1.42, 1.37, 1.37, 1.44, 1.38, 1.23, 1.28, 1.07, 0.75, 0.45, 0.23, 0.08, 0.09, 0.08, 0.18, 0.21,
     0.50, 0.85, 1.12, 1.22, 1.45, 1.43, 1.47, 1.50],
    [0.52, 0.49, 0.47, 0.47, 1.02, 0.99, 0.81, 0.52, 0.30, 0.17, 0.12, 0.11, 0.11, 0.11, 0.12, 0.13, 0.14,
     0.16, 0.15, 0.15, 0.15, 0.15, 0.23, 0.36, 0.49],
    [1.10, 0.98, 0.93, 0.97, 0.95, 0.90, 1.00, 1.15, 1.30, 1.45, 1.65, 2.00, 2.02, 2.02, 1.92, 1.75, 1.55,
     1.58, 1.68, 1.52, 1.48, 1.35, 1.33, 1.20, 1.10],
    [0.44, 0.46, 0.29, 0.25, 0.22, 0.27, 0.42, 0.45, 0.65, 0.72, 0.80, 1.00, 1.15, 1.10, 1.15, 1.04, 1.03,
     1.02, 0.95, 0.88, 0.80, 0.65, 0.57, 0.52, 0.45],
]
C_LOWER = [
    [0.38, 0.35, 0.32, 0.34, 0.30, 0.37, 0.48, 0.46, 0.38, 0.23, 0.13, 0.15, 0.08, 0.08, 0.18, 0.12, 0.22,
     0.32, 0.36, 0.50, 0.48, 0.43, 0.46, 0.42, 0.38],
    [0.23, 0.19, 0.20, 0.26, 0.25, 0.22, 0.13, 0.11, 0.10, 0.10, 0.09, 0.06, 0.03, 0.01, 0.00, 0.00, 0.02,
     0.06, 0.12, 0.15, 0.20, 0.19, 0.18, 0.20, 0.22],
    [0.09, 0.08, 0.09, 0.10, 0.10, 0.13, 0.14, 0.14, 0.09, 0.05, 0.02, 0.01, 0.01, 0.01, 0.02, 0.02, 0.03,
     0.04, 0.05, 0.05, 0.05, 0.05, 0.05, 0.06, 0.07],
    [0.80, 0.80, 0.77, 0.76, 0.73, 0.68, 0.75, 0.83, 0.90, 0.95, 1.00, 1.03, 1.10, 1.12, 1.10, 1.05, 1.00,
     1.02, 1.00, 0.97, 0.95, 0.88, 0.86, 0.84, 0.80],
    [0.03, 0.03, 0.02, 0.01, 0.00, 0.01, 0.03, 0.08, 0.14, 0.16, 0.18, 0.22, 0.30, 0.30, 0.29, 0.27, 0.26,
     0.22, 0.19, 0.16, 0.12, 0.09, 0.06, 0.05, 0.04],
]
C_LINE_COLORS = ["#ff0000", "#00b400", "#80f000", "#ffa000", "#6a00cc"]
C_FILL_COLORS = ["rgba(255,60,60,0.62)", "rgba(40,200,40,0.58)", "rgba(150,250,60,0.6)",
                 "rgba(255,175,40,0.58)", "rgba(140,60,210,0.62)"]
C_TICKS = [[0, 0.5, 1.0, 1.5], [0, 0.4, 0.8, 1.2], [0, 0.2, 0.4, 0.6, 0.8, 1.0],
           [0, 0.5, 1.0, 1.5, 2.0], [0, 0.2, 0.4, 0.6, 0.8, 1.0]]
C_MINOR = [0.25, 0.2, 0.1, 0.25, 0.1]


# ---------------- layout helpers (pixel geometry) ----------------
def fx(p):
    return p / W


def fy(p):
    return 1 - p / H


def ydom(top, bottom):
    return [1 - bottom / H, 1 - top / H]


def yrange(top, bottom, zero_px, px_per_unit):
    return [(zero_px - bottom) / px_per_unit, (zero_px - top) / px_per_unit]


def paper_text(px, py, text, size, color="black", family=FONT, xanchor="center", angle=0, **kw):
    d = dict(x=fx(px), y=fy(py), xref="paper", yref="paper", text=text, showarrow=False,
             xanchor=xanchor, yanchor="middle", textangle=angle,
             font=dict(family=family, size=size, color=color))
    d.update(kw)
    return d


tickfont_a = dict(family=FONT, size=25, color="black")
tickfont_b = dict(family=FONT, size=24, color="black")
tickfont_bg = dict(family=FONT, size=24, color=GRAY)

fig = go.Figure()
layout = dict(template="none", width=W, height=H, margin=dict(l=0, r=0, t=0, b=0, pad=0, autoexpand=False),
              paper_bgcolor="white", plot_bgcolor="white", barmode="stack",
              showlegend=False, font=dict(family=FONT, color="black"))
shapes, annotations = [], []

# ================= Panel (a) =================
A_GEOM = [  # (top px, bottom px, zero px, px per unit)
    (58, 195, 193.3, 663.0), (205, 343, 341.0, 1596.0), (358, 491, 489.0, 781.0),
    (508, 638, 636.0, 1462.0), (650, 792, 785.0, 1022.5)]
A_LABEL_POS = [(1060, 72), (1060, 210), (1058, 366), (1058, 509), (1058, 658)]

for i, peaks in enumerate(SPECTRA):
    yname = "y" if i == 0 else f"y{i + 1}"
    for cat in STACK_ORDER:
        xs = [p[0] for p in peaks if p[1] == cat]
        ys = [p[2] for p in peaks if p[1] == cat]
        if not xs:
            continue
        fig.add_trace(go.Bar(x=xs, y=ys, xaxis="x", yaxis=yname, width=0.62,
                             marker=dict(color=CAT_COLORS[CATEGORIES.index(cat)], line=dict(width=0)),
                             name=cat))
    top, bot, z, ppu = A_GEOM[i]
    yk = "yaxis" if i == 0 else f"yaxis{i + 1}"
    ticks = A_YTICKS[i]
    layout[yk] = dict(domain=ydom(top, bot), range=yrange(top, bot, z, ppu), anchor="x", automargin=False,
                      showline=True, linecolor="black", linewidth=2, ticks="outside", ticklen=8,
                      tickwidth=2, tickcolor="black", tickmode="array", tickvals=ticks,
                      ticktext=[f"{t:.2f}" for t in ticks], tickfont=tickfont_a,
                      showgrid=False, zeroline=False,
                      minor=dict(ticks="outside", ticklen=5, tickwidth=1.5, tickcolor="black",
                                 dtick=(ticks[1] - ticks[0]) / 2, tick0=0))
    for text, mx, my, leader in A_LABELS[i]:
        annotations.append(dict(x=mx, y=my, xref="x", yref=yname, text=text, showarrow=False,
                                xanchor="center", yanchor="middle",
                                font=dict(family=FONT, size=26, color="black")))
        if leader:
            shapes.append(dict(type="line", xref="x", yref=yname, x0=leader[0], y0=leader[1],
                               x1=leader[2], y1=leader[3], line=dict(color="black", width=2)))
    lx, ly = A_LABEL_POS[i]
    annotations.append(paper_text(lx, ly, FACTORS[i], 26, xanchor="right"))

layout["xaxis"] = dict(domain=[fx(178), 1.0], range=[59.3, 224.4], anchor="y5", showline=True, automargin=False,
                       linecolor="black", linewidth=3, ticks="outside", ticklen=8, tickwidth=2,
                       tickcolor="black", tickmode="array", tickvals=MZ_TICKS, tickfont=tickfont_a,
                       showgrid=False, zeroline=False,
                       minor=dict(ticks="outside", ticklen=5, tickwidth=1.5, tickcolor="black",
                                  dtick=10, tick0=60))
shapes.append(dict(type="line", xref="paper", yref="paper", x0=fx(178), x1=1.0, y0=fy(53), y1=fy(53),
                   line=dict(color="black", width=2.5)))
legend_text = "\u00a0\u00a0".join(
    f"<span style='color:{CAT_COLORS[k]}'>{c}</span>" for k, c in enumerate(CATEGORIES))
annotations.append(paper_text(602, 29.5, legend_text, 23, bordercolor="black", borderwidth=2,
                              borderpad=2, bgcolor="white"))
annotations.append(paper_text(656, 854, "m/z", 28))
annotations.append(paper_text(78, 416, "Fraction of signal", 27, angle=-90))
annotations.append(paper_text(27, 44, "(a)", 27, family=SERIF))

# ================= Panel (b) =================
times = pd.date_range(TS_START, periods=len(TRAFFIC_FACTOR), freq="4h")
o3_times = pd.date_range(O3_START, periods=len(OZONE), freq="4h")
B_GEOM = [  # top px, bottom px, (left zero px, left px/unit), (right zero px, right px/unit)
    (893, 1023, (1021.0, 9.975), (1021.0, 59.85)),
    (1030, 1157, (1154.5, 22.1), (1159.7, 3.02)),
    (1165, 1291, (1289.0, 38.5), (1290.0, 442.0)),
    (1303, 1424, (1422.0, 35.1), (1428.0, 1.77)),
    (1435, 1566, (1557.5, 28.6), (1571.6, 2.34)),
]
B_NAME_POS = [(174, 914), (177, 1044), (179, 1177), (177, 1309), (173, 1445)]
B_R_POS = [914, 1044, 1184, 1309, 1443]
B_TITLE_Y = [(952, 962), (1099, 1100), (1230, 1234), (1350, 1352), (1497, 1500)]
for k in range(5):
    base, over = 6 + 2 * k, 7 + 2 * k
    top, bot, (lz, lp), (rz, rp) = B_GEOM[k]
    tx = o3_times if k == 3 else times
    fig.add_trace(go.Scatter(x=tx, y=B_TRACERS[k], xaxis="x2", yaxis=f"y{base}", mode="lines",
                             line=dict(color="#8f8f8f", width=1.8)))
    fig.add_trace(go.Scatter(x=times, y=B_FACTORS[k], xaxis="x2", yaxis=f"y{over}", mode="lines",
                             line=dict(color=B_COLORS[k], width=1.8)))
    layout[f"yaxis{base}"] = dict(domain=ydom(top, bot), range=yrange(top, bot, rz, rp), anchor="x2",
                                  side="right", showline=True, linecolor=GRAY, linewidth=2, automargin=False,
                                  ticks="outside", ticklen=7, tickwidth=2, tickcolor=GRAY,
                                  tickmode="array", tickvals=B_RIGHT_TICKS[k], tickformat=B_RIGHT_FMT[k],
                                  tickfont=tickfont_bg, showgrid=False, zeroline=False,
                                  minor=dict(ticks="outside", ticklen=4, tickwidth=1.5, tickcolor=GRAY,
                                             dtick=B_RIGHT_MINOR[k], tick0=0))
    lt = B_LEFT_TICKS[k]
    layout[f"yaxis{over}"] = dict(overlaying=f"y{base}", range=yrange(top, bot, lz, lp), anchor="x2",
                                  side="left", showline=True, linecolor="black", linewidth=2, automargin=False,
                                  ticks="outside", ticklen=7, tickwidth=2, tickcolor="black",
                                  tickmode="array", tickvals=lt, tickfont=tickfont_b,
                                  showgrid=False, zeroline=False,
                                  minor=dict(ticks="outside", ticklen=4, tickwidth=1.5, tickcolor="black",
                                             dtick=(lt[1] - lt[0]) / 2, tick0=0))
    nx, ny = B_NAME_POS[k]
    annotations.append(paper_text(nx, ny, FACTORS[k], 24, xanchor="left"))
    annotations.append(paper_text(595, B_R_POS[k], B_R[k], 24, xanchor="right"))
    ty_name, ty_unit = B_TITLE_Y[k]
    annotations.append(paper_text(717, ty_name, B_TRACER_NAMES[k], 24, color=GRAY, angle=90))
    annotations.append(paper_text(686, ty_unit, "(ppb)", 24, color=GRAY, angle=90))

for ypx in (1041, 1454):
    annotations.append(paper_text(678, ypx, "x10<sup>-3</sup>", 23, color=GRAY))

layout["xaxis2"] = dict(domain=[fx(165), fx(608)], range=["2023-08-02 18:17", "2023-08-30 08:18"],
                        anchor="y14", showline=True, linecolor="black", linewidth=2.5, ticks="outside",
                        ticklen=7, tickwidth=2, tickcolor="black", tickmode="array", automargin=False,
                        tickvals=DATE_TICKS, ticktext=["8/6", "8/11", "8/16", "8/21", "8/26"],
                        tickfont=tickfont_b, showgrid=False, zeroline=False,
                        minor=dict(ticks="outside", ticklen=5, tickwidth=1.5, tickcolor="black",
                                   dtick=86400000, tick0="2023-08-06"))
shapes.append(dict(type="line", xref="paper", yref="paper", x0=fx(165), x1=fx(608), y0=fy(891),
                   y1=fy(891), line=dict(color="black", width=2.5)))
annotations.append(paper_text(104, 1208, "VOC factors(ppb)", 25, angle=-90))
annotations.append(paper_text(390, 1618, "Local date(2023)", 24))
annotations.append(paper_text(47, 900, "(b)", 27, family=SERIF))

# ================= Panel (c) =================
C_GEOM = [  # top px, bottom px, zero px, px per unit
    (885, 1007, 1007.0, 62.7), (1021, 1144, 1141.7, 80.0), (1158, 1283, 1282.7, 120.0),
    (1297, 1422, 1421.7, 60.0), (1436, 1567, 1558.3, 106.6)]
for k in range(5):
    yn = f"y{16 + k}"
    fig.add_trace(go.Scatter(x=HOURS, y=C_LOWER[k], xaxis="x3", yaxis=yn, mode="lines",
                             line=dict(width=0, color=C_FILL_COLORS[k])))
    fig.add_trace(go.Scatter(x=HOURS, y=C_UPPER[k], xaxis="x3", yaxis=yn, mode="lines", fill="tonexty",
                             fillcolor=C_FILL_COLORS[k], line=dict(width=0, color=C_FILL_COLORS[k])))
    fig.add_trace(go.Scatter(x=HOURS, y=C_MEDIAN[k], xaxis="x3", yaxis=yn, mode="lines",
                             line=dict(width=2.5, color=C_LINE_COLORS[k])))
    top, bot, z, ppu = C_GEOM[k]
    layout[f"yaxis{16 + k}"] = dict(domain=ydom(top, bot), range=yrange(top, bot, z, ppu), anchor="x3",
                                    showline=True, linecolor="black", linewidth=2, ticks="outside",
                                    ticklen=8, tickwidth=2, tickcolor="black", tickmode="array",
                                    tickvals=C_TICKS[k], tickformat=".1f", tickfont=tickfont_a,
                                    showgrid=False, zeroline=False, automargin=False,
                                    minor=dict(ticks="outside", ticklen=5, tickwidth=1.5, tickcolor="black",
                                               dtick=C_MINOR[k], tick0=0))
    if k < 4:
        shapes.append(dict(type="line", xref="paper", yref="paper", x0=fx(872), x1=fx(1098),
                           y0=fy(bot), y1=fy(bot), line=dict(color="black", width=2.5)))

layout["xaxis3"] = dict(domain=[fx(882), fx(1098)], range=[0, 24], anchor="y20", showline=True,
                        linecolor="black", linewidth=2.5, ticks="outside", ticklen=7, tickwidth=2,
                        tickcolor="black", tickmode="array", tickvals=[0, 4, 8, 12, 16, 20, 24],
                        tickfont=dict(family=FONT, size=24, color="black"), showgrid=False,
                        zeroline=False, automargin=False,
                        minor=dict(ticks="outside", ticklen=5, tickwidth=1.5, tickcolor="black",
                                   dtick=2, tick0=0))
shapes.append(dict(type="line", xref="paper", yref="paper", x0=fx(880), x1=fx(1098), y0=fy(877),
                   y1=fy(877), line=dict(color="black", width=2.5)))
shapes.append(dict(type="line", xref="paper", yref="paper", x0=fx(1098), x1=fx(1098), y0=fy(877),
                   y1=fy(1567), line=dict(color="black", width=2.5)))
annotations.append(paper_text(810, 1226, "VOC concentrations of factors(ppb)", 25, angle=-90))
annotations.append(paper_text(989, 1617, "Hours", 24))
annotations.append(paper_text(807, 900, "(c)", 27, family=SERIF))

layout["shapes"] = shapes
layout["annotations"] = annotations
fig.update_layout(layout)
fig.write_html("out.html", config={"displayModeBar": False},
               post_script="document.body.style.margin='0';document.body.style.padding='0';")
